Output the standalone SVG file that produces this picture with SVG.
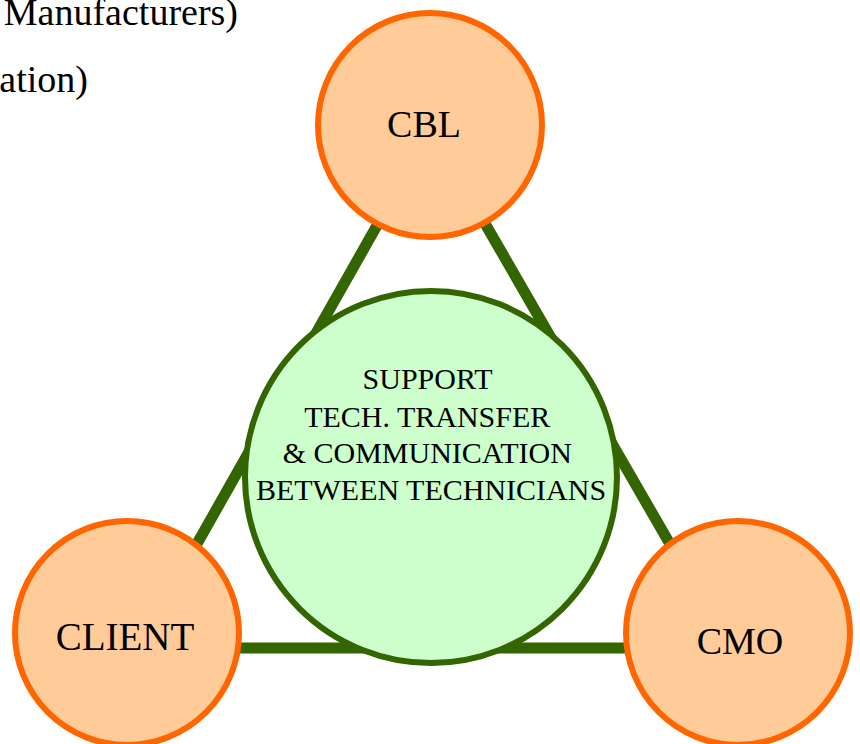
<svg xmlns="http://www.w3.org/2000/svg" width="860" height="744" viewBox="0 0 860 744">
<style>
.t{font-family:"Liberation Serif","Times New Roman",serif;fill:#000}
.party{fill:#FFCC99;stroke:#FF6600;stroke-width:6}
.core{fill:#CCFFCC;stroke:#336600;stroke-width:6}
.link{stroke:#336600;stroke-width:11;fill:none;stroke-linecap:butt}
</style>
<rect width="860" height="744" fill="#fff"/>
<text class="t" x="238" y="25" font-size="38" text-anchor="end">Manufacturers)</text>
<text class="t" x="88" y="92" font-size="38" text-anchor="end">ation)</text>
<g id="connectors">
<line class="link" x1="431" y1="130" x2="138" y2="648"/>
<line class="link" x1="431" y1="130" x2="730" y2="648"/>
<line class="link" x1="138" y1="648" x2="730" y2="648"/>
</g>
<g id="cbl">
<circle class="party" cx="430" cy="125" r="112"/>
<text class="t" x="424" y="137" font-size="38" text-anchor="middle">CBL</text>
</g>
<g id="client">
<circle class="party" cx="127" cy="633" r="112"/>
<text class="t" x="125" y="650" font-size="39" text-anchor="middle">CLIENT</text>
</g>
<g id="cmo">
<circle class="party" cx="738" cy="633" r="112"/>
<text class="t" x="740" y="654" font-size="38" text-anchor="middle">CMO</text>
</g>
<g id="support">
<circle class="core" cx="431" cy="477" r="186"/>
<text class="t" font-size="30" text-anchor="middle">
<tspan x="431" y="389">SUPPORT</tspan>
<tspan x="431" y="427">TECH. TRANSFER</tspan>
<tspan x="431" y="463">&amp; COMMUNICATION</tspan>
<tspan x="431" y="500">BETWEEN TECHNICIANS</tspan>
</text>
</g>
</svg>
